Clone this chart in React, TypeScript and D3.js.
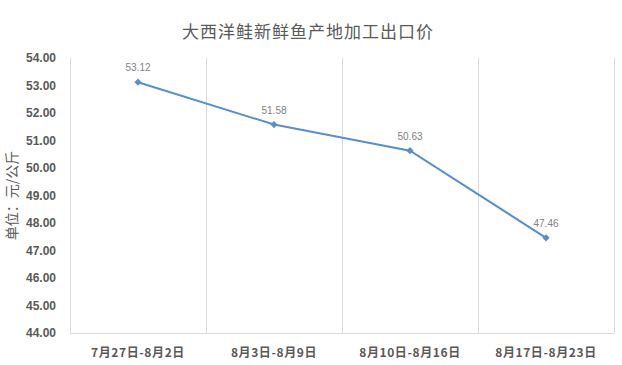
import React, { useEffect, useRef } from "react";
import * as d3 from "d3";

const categories = ["7月27日-8月2日", "8月3日-8月9日", "8月10日-8月16日", "8月17日-8月23日"];
const prices = [53.12, 51.58, 50.63, 47.46];
const yTicks = [44, 45, 46, 47, 48, 49, 50, 51, 52, 53, 54];
const title = "大西洋鲑新鲜鱼产地加工出口价";
const yTitle = "单位：元/公斤";

const App = () => {
  const svgRef = useRef<SVGSVGElement | null>(null);

  useEffect(() => {
    const width = 622;
    const height = 365;
    const margin = { top: 58, right: 8, bottom: 32, left: 70 };

    const svg = d3.select(svgRef.current);
    svg.selectAll("*").remove();
    svg.attr("width", width).attr("height", height);

    const x = d3
      .scaleBand<string>()
      .domain(categories)
      .range([margin.left, width - margin.right])
      .padding(0);
    const y = d3
      .scaleLinear()
      .domain([44, 54])
      .range([height - margin.bottom, margin.top]);

    // background
    svg.append("rect").attr("width", width).attr("height", height).attr("fill", "#fff");

    // vertical grid lines between categories
    const edges = categories.map((c) => x(c)!).concat([x.range()[1]]);
    svg
      .append("g")
      .selectAll("line")
      .data(edges)
      .enter()
      .append("line")
      .attr("x1", (d) => d + 0.5)
      .attr("x2", (d) => d + 0.5)
      .attr("y1", y(54))
      .attr("y2", y(44))
      .attr("stroke", "#d9d9d9")
      .attr("stroke-width", 1);

    // bottom axis line
    svg
      .append("line")
      .attr("x1", x.range()[0])
      .attr("x2", x.range()[1])
      .attr("y1", y(44) + 0.5)
      .attr("y2", y(44) + 0.5)
      .attr("stroke", "#d9d9d9");

    // title
    svg
      .append("text")
      .attr("x", 308)
      .attr("y", 38)
      .attr("text-anchor", "middle")
      .style("font-family", "'Noto Sans CJK SC', sans-serif")
      .style("font-size", "17px")
      .style("fill", "#595959")
      .style("letter-spacing", "1px")
      .text(title);

    // y tick labels
    svg
      .append("g")
      .selectAll("text")
      .data(yTicks)
      .enter()
      .append("text")
      .attr("x", 56)
      .attr("y", (d) => y(d))
      .attr("dy", "0.35em")
      .attr("text-anchor", "end")
      .style("font-family", "'Liberation Sans', Arial, sans-serif")
      .style("font-weight", "bold")
      .style("font-size", "12px")
      .style("fill", "#595959")
      .text((d) => d3.format(".2f")(d));

    // y axis title
    svg
      .append("text")
      .attr("transform", `translate(17,${(y(44) + y(54)) / 2}) rotate(-90)`)
      .attr("text-anchor", "middle")
      .style("font-family", "'Noto Sans CJK SC', sans-serif")
      .style("font-size", "14px")
      .style("fill", "#595959")
      .text(yTitle);

    // x labels
    svg
      .append("g")
      .selectAll("text")
      .data(categories)
      .enter()
      .append("text")
      .attr("x", (d) => x(d)! + x.bandwidth() / 2)
      .attr("y", 357)
      .attr("text-anchor", "middle")
      .style("font-family", "'Noto Sans CJK SC', sans-serif")
      .style("font-weight", "bold")
      .style("font-size", "12px")
      .style("letter-spacing", "0.6px")
      .style("fill", "#595959")
      .text((d) => d);

    // line
    const line = d3
      .line<number>()
      .x((_, i) => x(categories[i])! + x.bandwidth() / 2)
      .y((d) => y(d));

    svg
      .append("path")
      .datum(prices)
      .attr("d", line)
      .attr("fill", "none")
      .attr("stroke", "#5b8fc7")
      .attr("stroke-width", 2);

    // markers (square turned 45deg)
    svg
      .append("g")
      .selectAll("path")
      .data(prices)
      .enter()
      .append("path")
      .attr("d", d3.symbol().type(d3.symbolSquare).size(26))
      .attr(
        "transform",
        (d, i) => `translate(${x(categories[i])! + x.bandwidth() / 2},${y(d)}) rotate(45)`
      )
      .attr("fill", "#5b8fc7");

    // data labels
    svg
      .append("g")
      .selectAll("text")
      .data(prices)
      .enter()
      .append("text")
      .attr("x", (_, i) => x(categories[i])! + x.bandwidth() / 2)
      .attr("y", (d) => y(d) - 11)
      .attr("text-anchor", "middle")
      .style("font-family", "'Liberation Sans Narrow', 'Liberation Sans', Arial, sans-serif")
      .style("font-size", "10px")
      .style("fill", "#7f7f7f")
      .text((d) => d3.format(".2f")(d));
  }, []);

  return (
    <div style={{ position: "absolute", left: 0, top: 0 }}>
      <svg ref={svgRef}></svg>
    </div>
  );
};

export default App;
